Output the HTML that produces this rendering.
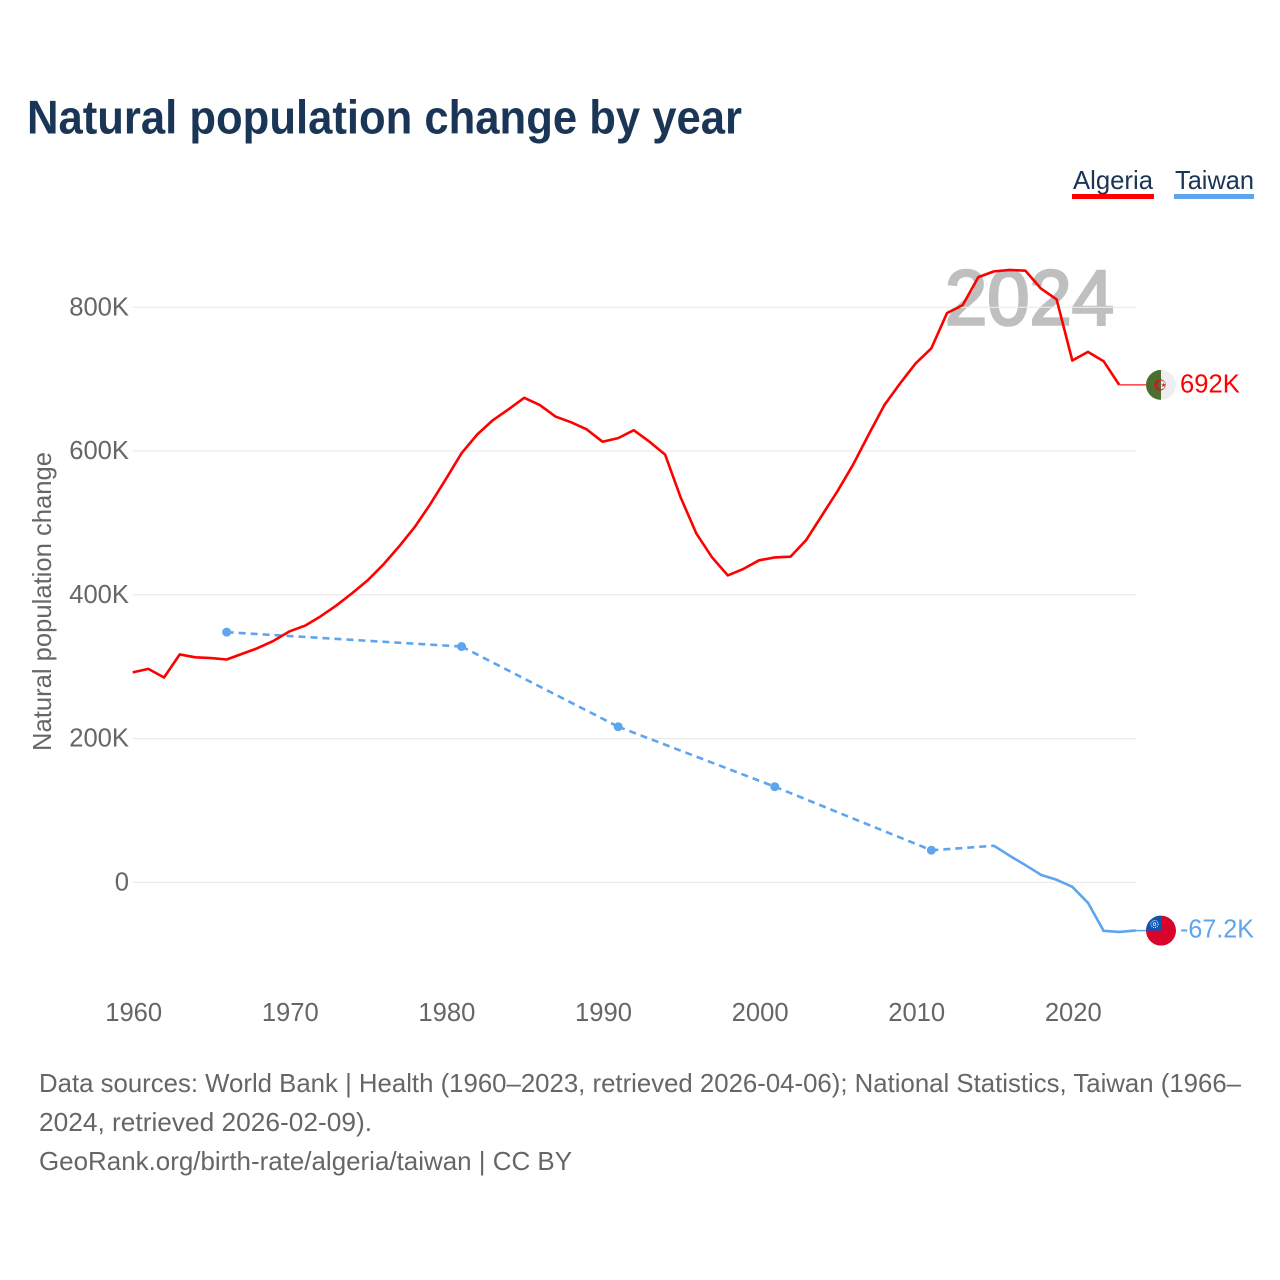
<!DOCTYPE html>
<html lang="en">
<head>
<meta charset="utf-8">
<title>Natural population change by year</title>
<style>
  html, body { margin: 0; padding: 0; background: #fff; }
  svg { display: block; font-family: "Liberation Sans", sans-serif; }
</style>
</head>
<body>
<svg id="chart" width="1280" height="1280" viewBox="0 0 1280 1280" xmlns="http://www.w3.org/2000/svg">
  <rect width="1280" height="1280" fill="#ffffff"/>
  <text x="27" y="133.5" font-size="47" font-weight="700" fill="#1a3556" textLength="715" lengthAdjust="spacingAndGlyphs">Natural population change by year</text>

  <g>
    <g>
      <text x="1073" y="189" font-size="26" fill="#1a3556" textLength="80" lengthAdjust="spacingAndGlyphs">Algeria</text>
      <rect x="1072" y="194" width="82" height="5" fill="#ff0000"/>
    </g>
    <g>
      <text x="1175" y="189" font-size="26" fill="#1a3556" textLength="79" lengthAdjust="spacingAndGlyphs">Taiwan</text>
      <rect x="1174" y="194" width="80" height="5" fill="#5fa5ee"/>
    </g>
  </g>

  <text x="945" y="324.5" font-size="78" font-weight="400" fill="#bfbfbf" stroke="#bfbfbf" stroke-width="2.6" textLength="169" lengthAdjust="spacingAndGlyphs">2024</text>

  <text transform="translate(51 751) rotate(-90)" x="0" y="0" font-size="25.6" fill="#666666" textLength="299" lengthAdjust="spacingAndGlyphs">Natural population change</text>

  <g id="grid"></g>
  <g id="y-ticks"></g>
  <g id="x-ticks"></g>
  <g id="taiwan"></g>
  <g id="algeria"></g>

  <defs>
    <clipPath id="flag-clip"><circle cx="0" cy="0" r="15"/></clipPath>
  </defs>

  <g id="flag-algeria">
    <g clip-path="url(#flag-clip)">
      <rect x="-15" y="-15" width="15" height="30" fill="#4a6f2e"/>
      <rect x="0" y="-15" width="15" height="30" fill="#eeeeee"/>
      <circle cx="-1" cy="0" r="5.6" fill="#d8102c"/>
      <circle cx="0.4" cy="0" r="4.4" fill="#4a6f2e"/>
      <path d="M0 -4.4 A4.4 4.4 0 0 1 0 4.4 Z" fill="#eeeeee"/>
      <path d="M2.6 -2 L3.2 -0.6 L4.8 -0.6 L3.6 0.4 L4.1 2 L2.6 1.1 L1.2 2 L1.6 0.4 L0.4 -0.6 L2 -0.6 Z" fill="#d8102c"/>
    </g>
  </g>
  <g id="flag-taiwan">
    <g clip-path="url(#flag-clip)">
      <rect x="-15" y="-15" width="30" height="30" fill="#d9042b"/>
      <rect x="-15" y="-15" width="15" height="15" fill="#0b55b5"/>
      <circle cx="-6.5" cy="-6.5" r="3.6" fill="none" stroke="#ffffff" stroke-width="0.9" stroke-dasharray="1 1"/>
      <circle cx="-6.5" cy="-6.5" r="1.7" fill="#ffffff"/>
      <circle cx="-6.5" cy="-6.5" r="1" fill="#0b55b5"/>
    </g>
  </g>

  <text id="label-algeria" x="1180" y="392" font-size="25.6" fill="#ff0000"></text>
  <text id="label-taiwan" x="1180" y="937" font-size="25.6" fill="#5fa5ee" textLength="74" lengthAdjust="spacingAndGlyphs"></text>

  <g>
    <text x="39" y="1092" font-size="25.6" fill="#666666" textLength="1202" lengthAdjust="spacingAndGlyphs">Data sources: World Bank | Health (1960–2023, retrieved 2026-04-06); National Statistics, Taiwan (1966–</text>
    <text x="39" y="1131" font-size="25.6" fill="#666666" textLength="333" lengthAdjust="spacingAndGlyphs">2024, retrieved 2026-02-09).</text>
    <text x="39" y="1170" font-size="25.6" fill="#666666" textLength="533" lengthAdjust="spacingAndGlyphs">GeoRank.org/birth-rate/algeria/taiwan | CC BY</text>
  </g>
</svg>

<script>
// Chart data (values in thousands)
var yTickValues = [0, 200, 400, 600, 800];
var yTickLabels = ['0', '200K', '400K', '600K', '800K'];
var xTickYears = [1960, 1970, 1980, 1990, 2000, 2010, 2020];
var algeriaStartYear = 1960;
var algeriaValues = [
  292, 297, 285, 317, 313, 312, 310, 318, 326, 336,
  349, 357, 370, 385, 402, 420, 442, 467, 494, 526,
  561, 597, 623, 643, 658, 674, 664, 648, 640, 630,
  613, 618, 629, 613, 595, 535, 485, 452, 427, 436,
  448, 452, 453, 476, 510, 544, 581, 623, 664, 694,
  722, 743, 792, 803, 842, 850, 852, 851, 826, 811,
  726, 738, 725, 692
];
var taiwanYears = [1966, 1981, 1991, 2001, 2011, 2015, 2016, 2017, 2018, 2019, 2020, 2021, 2022, 2023, 2024];
var taiwanValues = [348, 328, 216.5, 133, 44.6, 50.8, 37, 24, 10.4, 3.5, -6.3, -28.5, -67.5, -69, -67.2];
var algeriaEndLabel = '692K';
var taiwanEndLabel = '-67.2K';

var SVG_NS = 'http://www.w3.org/2000/svg';
function xScale(year) { return 132.7 + (year - 1960) * 15.66; }
function yScale(value) { return 882.3 - value * 0.71875; }

function make(tag, parent) {
  var el = document.createElementNS(SVG_NS, tag);
  parent.appendChild(el);
  return el;
}

var gridGroup = document.getElementById('grid');
var yTickGroup = document.getElementById('y-ticks');
var xTickGroup = document.getElementById('x-ticks');
var algeriaGroup = document.getElementById('algeria');
var taiwanGroup = document.getElementById('taiwan');

yTickValues.forEach(function (v, i) {
  var line = make('line', gridGroup);
  
  
  line.setAttribute('x1', 133);
  line.setAttribute('x2', 1136);
  line.setAttribute('y1', yScale(v));
  line.setAttribute('y2', yScale(v));
  line.setAttribute('stroke', '#e9e9e9');
  line.setAttribute('stroke-width', 1.2);

  var t = make('text', yTickGroup);
  
  
  t.setAttribute('x', 129);
  t.setAttribute('y', yScale(v) + 8);
  t.setAttribute('text-anchor', 'end');
  t.setAttribute('font-size', 25.6);
  t.setAttribute('fill', '#666666');
  t.textContent = yTickLabels[i];
});

xTickYears.forEach(function (yr) {
  var t = make('text', xTickGroup);
  
  
  t.setAttribute('x', xScale(yr) + 1);
  t.setAttribute('y', 1021);
  t.setAttribute('text-anchor', 'middle');
  t.setAttribute('font-size', 25.6);
  t.setAttribute('fill', '#666666');
  t.textContent = String(yr);
});

// Algeria line
var algeriaPts = algeriaValues.map(function (v, i) {
  return xScale(algeriaStartYear + i).toFixed(2) + ',' + yScale(v).toFixed(2);
});
var algeriaLine = make('polyline', algeriaGroup);


algeriaLine.setAttribute('points', algeriaPts.join(' '));
algeriaLine.setAttribute('fill', 'none');
algeriaLine.setAttribute('stroke', '#ff0000');
algeriaLine.setAttribute('stroke-width', 2.6);
algeriaLine.setAttribute('stroke-linejoin', 'round');

var algeriaLastV = algeriaValues[algeriaValues.length - 1];
var algeriaLastX = xScale(algeriaStartYear + algeriaValues.length - 1);
var algeriaLead = make('line', algeriaGroup);


algeriaLead.setAttribute('x1', algeriaLastX);
algeriaLead.setAttribute('x2', 1146);
algeriaLead.setAttribute('y1', yScale(algeriaLastV));
algeriaLead.setAttribute('y2', yScale(algeriaLastV));
algeriaLead.setAttribute('stroke', '#ff3b3b');
algeriaLead.setAttribute('stroke-width', 1.5);

// Taiwan line: consecutive years are solid, gaps are dashed, isolated points get a dot
taiwanYears.forEach(function (yr, i) {
  if (i < taiwanYears.length - 1) {
    var seg = make('line', taiwanGroup);
    
    
    seg.setAttribute('x1', xScale(yr));
    seg.setAttribute('y1', yScale(taiwanValues[i]));
    seg.setAttribute('x2', xScale(taiwanYears[i + 1]));
    seg.setAttribute('y2', yScale(taiwanValues[i + 1]));
    seg.setAttribute('stroke', '#5fa5ee');
    seg.setAttribute('stroke-width', 2.6);
    seg.setAttribute('stroke-linecap', 'round');
    if (taiwanYears[i + 1] - yr > 1) {
      seg.setAttribute('stroke-dasharray', '7 5');
      seg.setAttribute('stroke-linecap', 'butt');
    }
  }
  var hasNext = i < taiwanYears.length - 1 && taiwanYears[i + 1] - yr === 1;
  var hasPrev = i > 0 && yr - taiwanYears[i - 1] === 1;
  if (!hasNext && !hasPrev) {
    var dot = make('circle', taiwanGroup);
    
    
    dot.setAttribute('cx', xScale(yr));
    dot.setAttribute('cy', yScale(taiwanValues[i]));
    dot.setAttribute('r', 4.5);
    dot.setAttribute('fill', '#5fa5ee');
  }
});

var taiwanLastV = taiwanValues[taiwanValues.length - 1];
var taiwanLastX = xScale(taiwanYears[taiwanYears.length - 1]);
var taiwanLead = make('line', taiwanGroup);


taiwanLead.setAttribute('x1', taiwanLastX);
taiwanLead.setAttribute('x2', 1146);
taiwanLead.setAttribute('y1', yScale(taiwanLastV));
taiwanLead.setAttribute('y2', yScale(taiwanLastV));
taiwanLead.setAttribute('stroke', '#5fa5ee');
taiwanLead.setAttribute('stroke-width', 1.5);

// End markers
document.getElementById('flag-algeria').setAttribute('transform', 'translate(1161 ' + yScale(algeriaLastV) + ')');
document.getElementById('flag-taiwan').setAttribute('transform', 'translate(1161 ' + yScale(taiwanLastV) + ')');
var labelAlgeria = document.getElementById('label-algeria');
labelAlgeria.textContent = algeriaEndLabel;
labelAlgeria.setAttribute('y', yScale(algeriaLastV) + 7.5);
var labelTaiwan = document.getElementById('label-taiwan');
labelTaiwan.textContent = taiwanEndLabel;
labelTaiwan.setAttribute('y', yScale(taiwanLastV) + 7);
</script>
</body>
</html>
